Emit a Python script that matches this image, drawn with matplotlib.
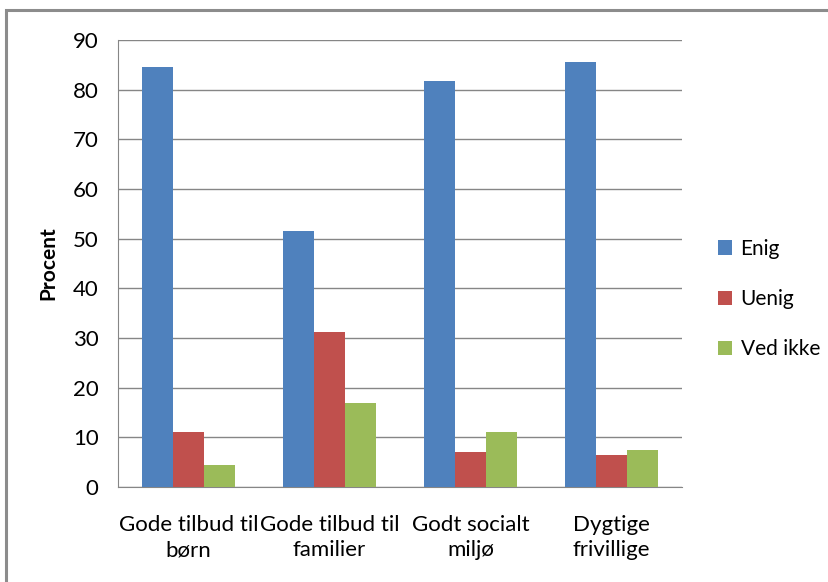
import matplotlib.pyplot as plt
import numpy as np
from matplotlib.patches import Rectangle

plt.rcParams['font.family'] = ['Lato', 'DejaVu Sans']

categories = ["Gode tilbud til\nbørn", "Gode tilbud til\nfamilier", "Godt socialt\nmiljø", "Dygtige\nfrivillige"]
enig = [84.5, 51.5, 81.8, 85.5]
uenig = [11.0, 31.2, 7.0, 6.5]
ved_ikke = [4.5, 17.0, 11.0, 7.5]
series = [("Enig", enig, "#4F81BD"), ("Uenig", uenig, "#C0504D"), ("Ved ikke", ved_ikke, "#9BBB59")]

fig = plt.figure(figsize=(8.29, 5.82), dpi=100)
ax = fig.add_axes([0.1423, 0.1632, 0.6804, 0.7681])

# outer chart frame (cut off at right/bottom)
fig.patches.append(Rectangle((6 / 829, -0.05), 1.2, 1 - 10 / 582 + 0.05, transform=fig.transFigure,
                             fill=False, edgecolor="#8c8c8c", linewidth=2.2))

x = np.arange(len(categories))
w = 0.22
for i, (name, vals, col) in enumerate(series):
    ax.bar(x + (i - 1) * w, vals, width=w, color=col, label=name, zorder=3)

ax.set_xlim(-0.5, len(categories) - 0.5)
ax.set_ylim(0, 90)
ax.set_yticks(range(0, 91, 10))
ax.yaxis.grid(True, color="#868686", linewidth=1)
ax.set_axisbelow(True)
ax.set_xticks(x)
ax.set_xticklabels(categories, fontsize=16, linespacing=1.35)
ax.tick_params(axis="y", labelsize=16, length=0, pad=14)
ax.tick_params(axis="x", length=0, pad=20)
for s in ["top", "right"]:
    ax.spines[s].set_visible(False)
for s in ["left", "bottom"]:
    ax.spines[s].set_color("#868686")
ax.set_ylabel("Procent", fontsize=15, fontweight="bold", labelpad=10)

ax.legend(loc="center left", bbox_to_anchor=(1.03, 0.42), frameon=False, fontsize=15,
          handlelength=0.7, handleheight=0.7, handletextpad=0.4, labelspacing=1.45)

fig.savefig("out.png", dpi=100)
